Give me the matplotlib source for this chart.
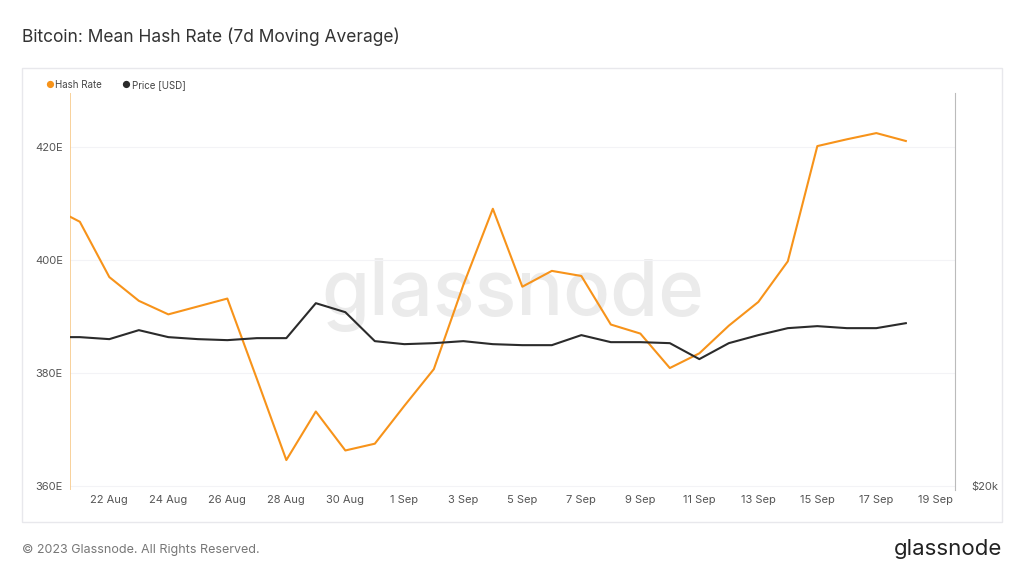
import matplotlib
matplotlib.use("Agg")
import matplotlib.pyplot as plt
import numpy as np
import pandas as pd
from matplotlib.patches import Rectangle

dates = pd.date_range("2023-08-20", "2023-09-18", freq="D")
hash_rate = [409.5, 406.8, 397.0, 392.8, 390.4, 391.8, 393.2, 379.0, 364.6, 373.2,
             366.3, 367.5, 374.2, 380.7, 395.6, 409.1, 395.3, 398.1, 397.2, 388.6,
             387.0, 380.9, 383.5, 388.4, 392.6, 399.8, 420.2, 421.4, 422.5, 421.1]
price = [23404, 23404, 23358, 23564, 23404, 23358, 23335, 23381, 23381, 24182,
         23976, 23312, 23243, 23266, 23312, 23243, 23220, 23220, 23450, 23289,
         23289, 23266, 22900, 23266, 23450, 23610, 23656, 23610, 23610, 23724]
tick_dates = pd.date_range("2023-08-22", "2023-09-19", freq="2D")
tick_labels = [d.strftime("%-d %b") for d in tick_dates]

plt.rcParams["font.family"] = "Inter"
fig = plt.figure(figsize=(10.24, 5.76), dpi=100)
fig.patch.set_facecolor("white")
fig.patches.append(Rectangle((22/1024, 1-522/576), 980/1024, 454/576, transform=fig.transFigure,
                             fill=False, edgecolor="#e8e8ec", lw=1))
ax = fig.add_axes([70/1024, 1-490/576, 885/1024, 397/576])
ax2 = ax.twinx()
ax.plot(dates, hash_rate, color="#f7931a", lw=1.5, zorder=3)
ax2.plot(dates, price, color="#2b2b2b", lw=1.5)
x0 = pd.Timestamp("2023-08-20") + pd.Timedelta(hours=16)
x1 = pd.Timestamp("2023-09-19") + pd.Timedelta(hours=16)
ax.set_xlim(x0, x1)
ax.set_ylim(359.3, 429.6)
ax2.set_ylim(19900, 29000)
ax.set_yticks([360, 380, 400, 420])
ax.set_yticklabels(["360E", "380E", "400E", "420E"])
ax2.set_yticks([20000])
ax2.set_yticklabels(["$20k"])
ax.set_xticks(tick_dates)
ax.set_xticklabels(tick_labels)
for a in (ax, ax2):
    a.tick_params(length=0, labelsize=8, colors="#555555")
    for s in a.spines.values():
        s.set_visible(False)
ax2.tick_params(axis="y", pad=12)
for lab in ax.get_yticklabels():
    lab.set_ha("left")
ax.tick_params(axis="y", pad=25)
ax.grid(axis="y", color="#f3f3f6", lw=0.8)
ax.axvline(x0, color="#f7c98a", lw=1.2)
ax2.spines["right"].set_visible(True)
ax2.spines["right"].set_color("#bbbbbb")
ax.set_facecolor("white")
ax.text(0.5, 0.49, "glassnode", transform=ax.transAxes, ha="center", va="center",
        fontsize=56, color="#ebebeb", zorder=1, fontweight="medium")
fig.text(22/1024, 1-37/576, "Bitcoin: Mean Hash Rate (7d Moving Average)", fontsize=12.5,
         color="#333333", va="center")
fig.text(45/1024, 1-85/576, "●", color="#f7931a", fontsize=7, va="center")
fig.text(55/1024, 1-85/576, "Hash Rate", color="#444444", fontsize=7, va="center")
fig.text(121/1024, 1-85/576, "●", color="#2b2b2b", fontsize=7, va="center")
fig.text(132/1024, 1-85/576, "Price [USD]", color="#444444", fontsize=7, va="center")
fig.text(22/1024, 1-550/576, "© 2023 Glassnode. All Rights Reserved.", fontsize=9, color="#777777", va="center")
fig.text(1002/1024, 1-549/576, "glassnode", fontsize=16, color="#222222", va="center", ha="right")
fig.savefig("out.png", dpi=100)
